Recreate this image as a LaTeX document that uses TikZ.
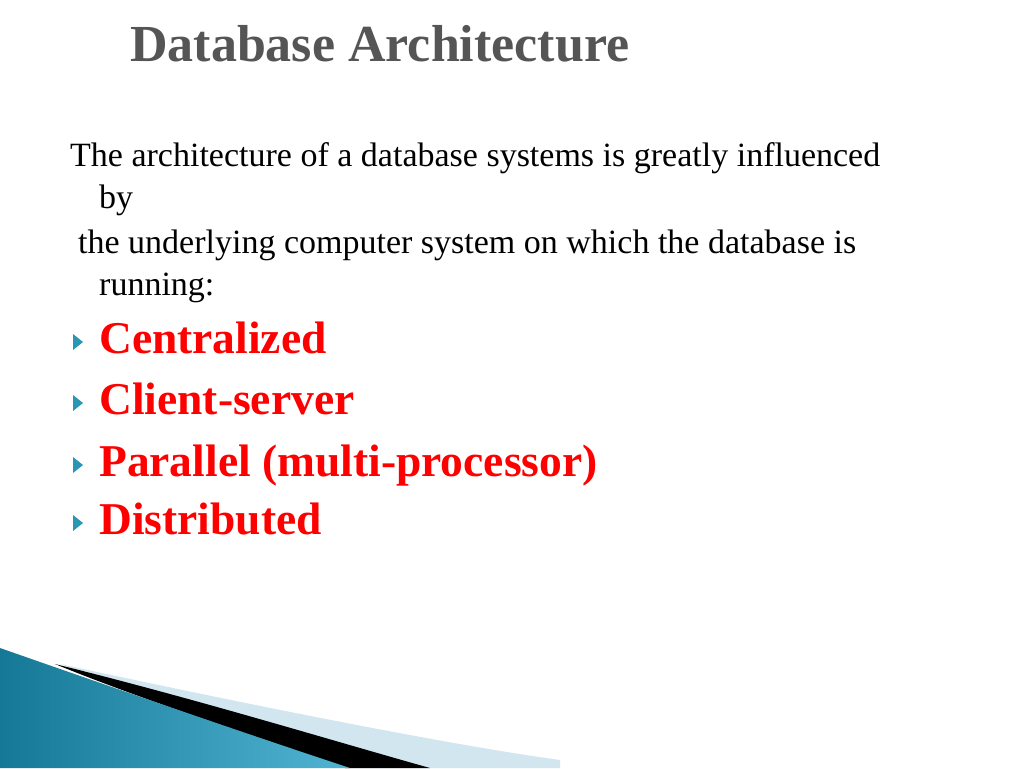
\documentclass[tikz,border=0pt]{standalone}
\usepackage{fontspec}
\setmainfont{Liberation Serif}
\definecolor{titlegray}{RGB}{85,85,85}
\definecolor{teal1}{RGB}{20,120,150}
\definecolor{teal2}{RGB}{80,180,210}
\definecolor{lightblue}{RGB}{210,230,240}
\definecolor{bulletc}{RGB}{40,150,180}
\begin{document}
\begin{tikzpicture}[x=1pt,y=-1pt,
  body/.style={anchor=base west,inner sep=0pt,font=\fontsize{34}{38}\selectfont},
  item/.style={anchor=base west,inner sep=0pt,text=red,font=\fontsize{45.5}{50}\selectfont\bfseries},
  tri/.style={fill=bulletc}]
\useasboundingbox (0,0) rectangle (1024,768);
\fill[white] (0,0) rectangle (1024,768);
\node[anchor=base west,inner sep=0pt,text=titlegray,font=\fontsize{52}{56}\selectfont\bfseries] (title) at (130,62) {Database Architecture};
\node[body] (l1) at (70,166) {The architecture of a database systems is greatly influenced};
\node[body] (l2) at (99,208) {by};
\node[body] (l3) at (78,253) {the underlying computer system on which the database is};
\node[body] (l4) at (99,295) {running:};
\foreach \y/\t/\n in {353/Centralized/a, 414/Client-server/b, 476/Parallel (multi-processor)/c, 534/Distributed/d}{
  \node[item] (\n) at (99,\y) {\t};
  \fill[tri] (73,\y-19) -- (83,\y-11) -- (73,\y-3) -- cycle;
}
% decoration
\fill[lightblue] (60,664) .. controls (250,705) and (450,745) .. (560,760) -- (560,768) -- (330,768) -- cycle;
\fill[black] (55,664) .. controls (200,700) and (330,740) .. (430,768) -- (345,768) .. controls (250,735) and (130,695) .. (55,664) -- cycle;
\shade[left color=teal1,right color=teal2] (0,648) .. controls (120,690) and (250,735) .. (350,768) -- (0,768) -- cycle;
\end{tikzpicture}
\end{document}
